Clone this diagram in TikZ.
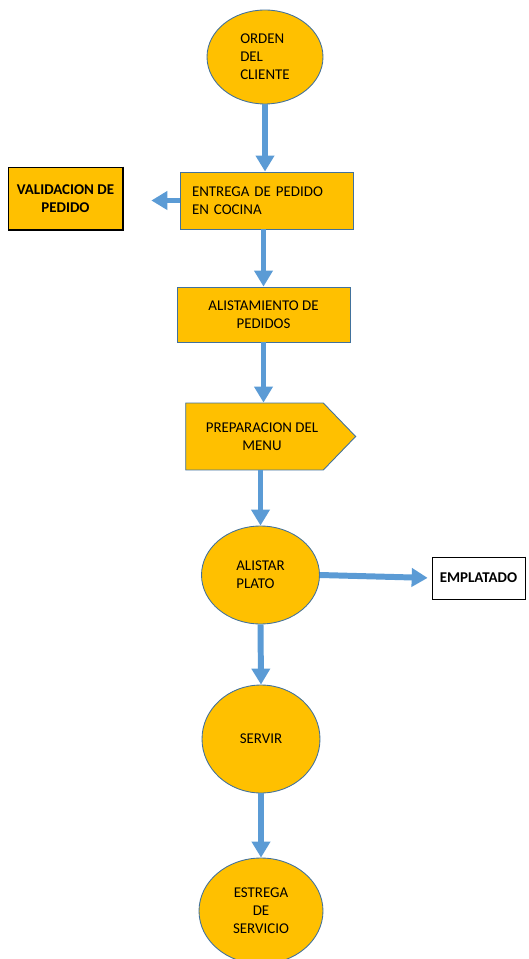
\documentclass[tikz,border=0pt]{standalone}
\usepackage{fontspec}
\setmainfont{Carlito}
\usetikzlibrary{shapes.geometric,shapes.symbols,arrows.meta}
\definecolor{naranja}{HTML}{FFC000}
\definecolor{borde}{HTML}{41719C}
\definecolor{azul}{HTML}{5B9BD5}
\tikzset{
	caja/.style={draw=borde,fill=naranja,line width=0.5pt,inner sep=0pt,font=\fontsize{8.5}{10.2}\selectfont,align=center},
	elipse/.style={caja,ellipse},
	blanca/.style={draw=black,fill=white,line width=0.4pt,inner sep=0pt,font=\bfseries\fontsize{8.5}{10.2}\selectfont,align=center},
	flecha/.style={draw=azul,line width=3.4pt,-{Triangle[width=0.36cm,length=0.32cm]}}
}
\begin{document}
\begin{tikzpicture}[x=0.02cm,y=-0.02cm]
	\useasboundingbox (0,0) rectangle (528,959);
	\node[elipse,minimum width=2.32cm,minimum height=1.88cm,align=left] (orden) at (265,57) {ORDEN\\DEL\\CLIENTE};
	\node[caja,minimum width=3.46cm,minimum height=1.14cm,text width=2.98cm,align=left] (entrega) at (266.5,200.5) {ENTREGA DE PEDIDO\\EN COCINA};
	\node[blanca,fill=naranja,minimum width=2.3cm,minimum height=1.26cm] (valid) at (65.5,198.5) {VALIDACION DE\\PEDIDO};
	\node[caja,minimum width=3.46cm,minimum height=1.1cm] (alist) at (263.5,314.5) {ALISTAMIENTO DE\\PEDIDOS};
	\node[caja,shape=signal,signal to=east,signal pointer angle=92,minimum width=3.4cm,minimum height=1.34cm] (prep) at (254.5,436.5) {\hspace*{0.3cm}PREPARACION DEL\\\hspace*{0.3cm}MENU};
	\node[elipse,minimum width=2.36cm,minimum height=1.96cm,align=left] (plato) at (260.5,575) {ALISTAR\\PLATO};
	\node[blanca,minimum width=1.86cm,minimum height=0.84cm] (empl) at (478.5,578) {EMPLATADO};
	\node[elipse,minimum width=2.36cm,minimum height=2.16cm] (servir) at (261,739) {SERVIR};
	\node[elipse,minimum width=2.48cm,minimum height=2.12cm] (estrega) at (261,911) {ESTREGA\\DE\\SERVICIO};
	% sombra de las cajas
	\draw[line width=1.1pt] (valid.north east) -- (valid.south east) -- (valid.south west);
	\draw[line width=0.9pt] (empl.north east) -- (empl.south east) -- (empl.south west);
	% flechas
	\draw[flecha] (orden.south) -- (orden.south |- entrega.north);
	\draw[flecha,shorten >=0.56cm] (entrega.west) -- (entrega.west -| valid.east);
	\draw[flecha] (alist.north |- entrega.south) -- (alist.north);
	\draw[flecha] (alist.south) -- (alist.south |- prep.north);
	\draw[flecha] (plato.north |- prep.south) -- (plato.north);
	\draw[flecha,shorten >=0.08cm] (plato.east) -- (empl.west);
	\draw[flecha] (plato.south) -- (servir.north);
	\draw[flecha] (servir.south) -- (estrega.north);
\end{tikzpicture}
\end{document}
